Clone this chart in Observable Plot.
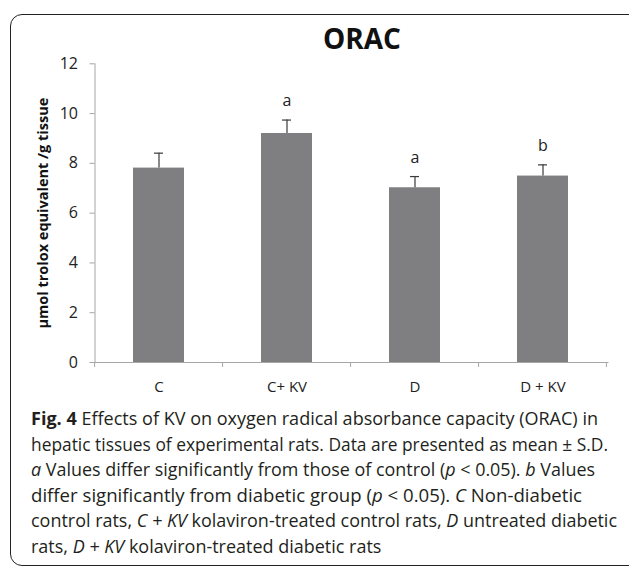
<!DOCTYPE html>
<html>
<head>
<meta charset="utf-8">
<script src="https://cdn.jsdelivr.net/npm/d3@7"></script>
<script src="https://cdn.jsdelivr.net/npm/@observablehq/plot@0.6"></script>
<style>
  html, body { margin: 0; padding: 0; background: #fff; overflow: hidden; }
  body { width: 629px; height: 569px; position: relative; font-family: "Open Sans", sans-serif; }
  #frame { position: absolute; left: 10px; top: 14px; width: 660px; height: 552px; border: 1.5px solid #222; border-radius: 12px; box-sizing: border-box; }
  #title { position: absolute; left: 362px; top: 20px; transform: translateX(-50%); font-weight: 700; font-size: 28px; line-height: 36px; color: #111; white-space: nowrap; }
  #chart { position: absolute; left: 0; top: 0; }
  #caption { position: absolute; left: 31px; top: 405px; font-size: 18.5px; line-height: 25.6px; color: #231f20; }
  #caption .ln { height: 25.6px; white-space: nowrap; }
  #caption .ln span { display: inline-block; transform-origin: 0 50%; }
  #caption b { font-weight: 700; }
</style>
</head>
<body>
<div id="frame"></div>
<div id="chart"></div>
<div id="title">ORAC</div>
<div id="caption"></div>
<script>
const groups = ["C", "C+ KV", "D", "D + KV"];
const means = [7.81, 9.20, 7.02, 7.49];
const sds = [0.60, 0.54, 0.45, 0.45];
const sigLetters = ["", "a", "a", "b"];
const yTicks = [0, 2, 4, 6, 8, 10, 12];
const yLabel = "μmol trolox equivalent /g tissue";
const captionLines = [
  "<b>Fig. 4</b> Effects of KV on oxygen radical absorbance capacity (ORAC) in",
  "hepatic tissues of experimental rats. Data are presented as mean ± S.D.",
  "<i>a</i> Values differ significantly from those of control (<i>p</i> &lt; 0.05). <i>b</i> Values",
  "differ significantly from diabetic group (<i>p</i> &lt; 0.05). <i>C</i> Non-diabetic",
  "control rats, <i>C + KV</i> kolaviron-treated control rats, <i>D</i> untreated diabetic",
  "rats, <i>D + KV</i> kolaviron-treated diabetic rats"
];
// layout: widths the caption lines occupy in the reference (px); null = natural
const captionLineWidths = [567, 577, 564, 551, 586, null];

const data = groups.map((g, i) => ({group: g, mean: means[i], upper: means[i] + sds[i], sig: sigLetters[i]}));

const axisGray = "#a6a6a6";

// band boundary ticks below the x axis, computed from the band scale
function bandTicks(index, scales, values, dims) {
  const x = scales.scales.x;
  const ns = "http://www.w3.org/2000/svg";
  const g = document.createElementNS(ns, "g");
  const step = x.step;
  const y0 = dims.height - dims.marginBottom;
  const pos = groups.map(c => scales.x(c) - step * x.paddingOuter);
  pos.push(scales.x(groups[groups.length - 1]) + x.bandwidth + step * x.paddingOuter);
  for (const p of pos) {
    const l = document.createElementNS(ns, "line");
    l.setAttribute("x1", p); l.setAttribute("x2", p);
    l.setAttribute("y1", y0); l.setAttribute("y2", y0 + 5);
    l.setAttribute("stroke", axisGray);
    g.appendChild(l);
  }
  return g;
}

const chart = Plot.plot({
  width: 629,
  height: 400,
  marginLeft: 94.5,
  marginRight: 21.5,
  marginTop: 63.3,
  marginBottom: 38,
  style: {fontFamily: "Open Sans, sans-serif", background: "transparent"},
  x: {domain: groups, paddingInner: 0.6, paddingOuter: 0.3, label: null},
  y: {domain: [0, 12], label: null},
  marks: [
    Plot.barY(data, {x: "group", y: "mean", fill: "#7f7f81"}),
    Plot.ruleX(data, {x: "group", y1: "mean", y2: "upper", stroke: "#3a3a3a", strokeWidth: 1.2}),
    Plot.tickY(data, {x: "group", y: "upper", stroke: "#3a3a3a", strokeWidth: 1.2, insetLeft: 21, insetRight: 21}),
    Plot.text(data.filter(d => d.sig), {x: "group", y: "upper", text: "sig", dy: -19, fontSize: 16, fill: "#222"}),
    Plot.frame({anchor: "left", stroke: axisGray}),
    Plot.frame({anchor: "bottom", stroke: axisGray}),
    Plot.axisY({ticks: yTicks, tickSize: 5, tickPadding: 12, stroke: axisGray, fill: "#222", fontSize: 16, label: null}),
    Plot.axisX({tickSize: 0, tickPadding: 19, fill: "#222", fontSize: 15, label: null}),
    bandTicks,
    Plot.text([yLabel], {frameAnchor: "left", dx: -52, rotate: -90, textAnchor: "middle", fontSize: 14.5, fontWeight: "bold", fill: "#111"})
  ]
});
document.getElementById("chart").appendChild(chart);

const cap = document.getElementById("caption");
const spans = captionLines.map(html => {
  const ln = document.createElement("div");
  ln.className = "ln";
  const s = document.createElement("span");
  s.innerHTML = html;
  ln.appendChild(s);
  cap.appendChild(ln);
  return s;
});
function fitCaption() {
  const scales = spans.map((s, i) => captionLineWidths[i] ? captionLineWidths[i] / s.getBoundingClientRect().width : null);
  const known = scales.filter(v => v !== null);
  const avg = known.reduce((a, b) => a + b, 0) / known.length;
  spans.forEach((s, i) => { s.style.transform = `scaleX(${scales[i] ?? avg})`; });
}
fitCaption();
if (document.fonts && document.fonts.ready) document.fonts.ready.then(() => { spans.forEach(s => s.style.transform = ""); fitCaption(); });
</script>
</body>
</html>
